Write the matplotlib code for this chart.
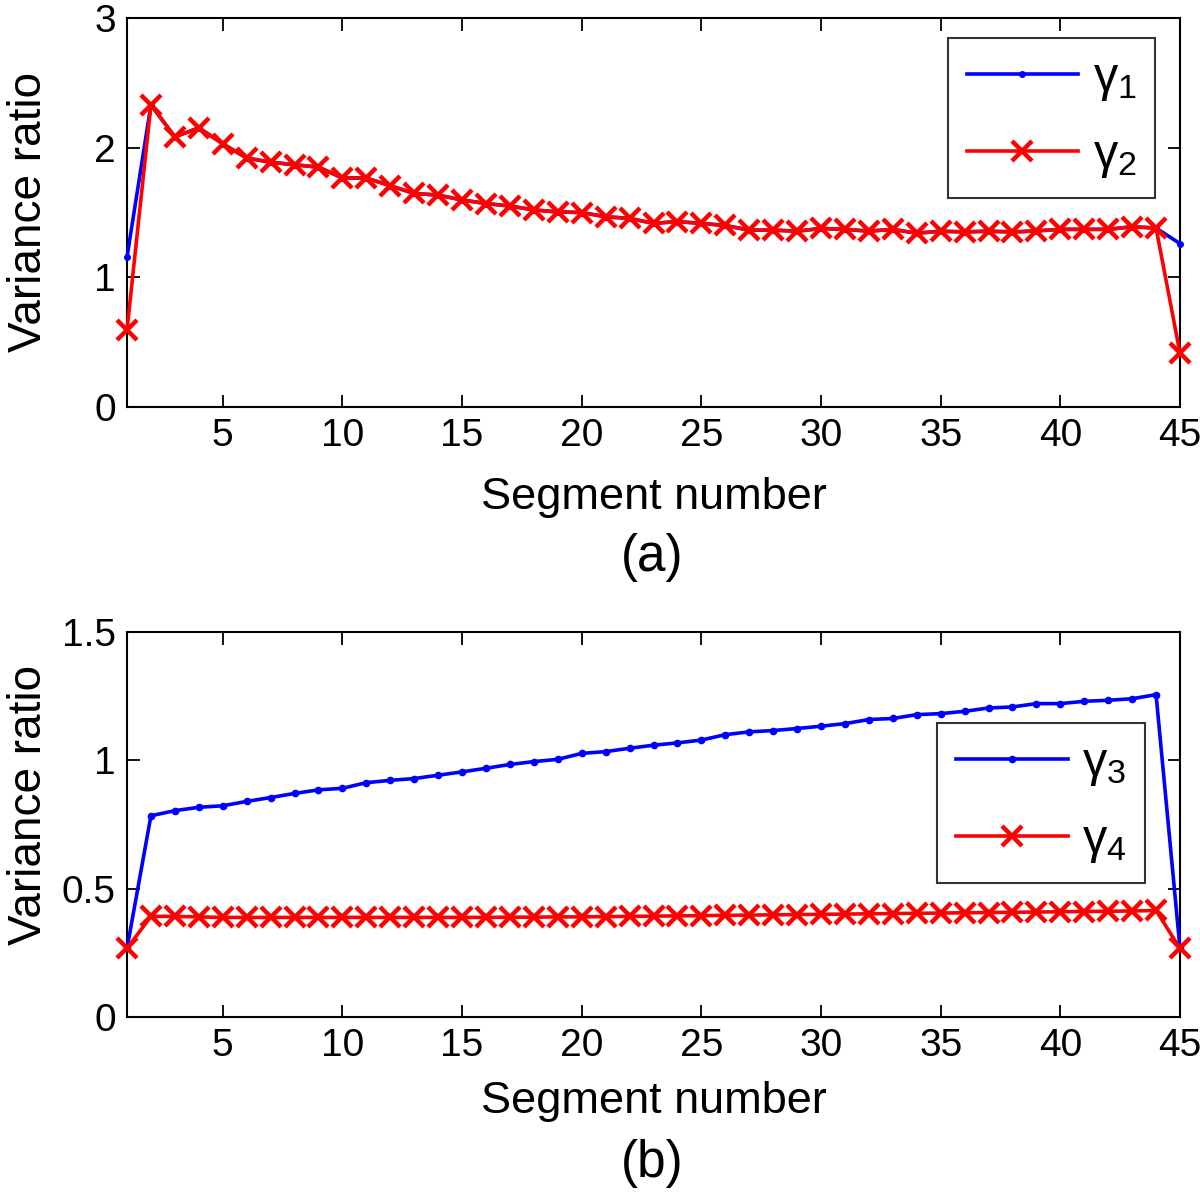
import matplotlib
matplotlib.use("Agg")
import matplotlib.pyplot as plt

plt.rcParams['font.family'] = ['Liberation Sans', 'DejaVu Sans']
plt.rcParams['mathtext.fontset'] = 'custom'
plt.rcParams['mathtext.rm'] = 'Liberation Sans'
plt.rcParams['mathtext.it'] = 'Liberation Sans'

segments = list(range(1, 46))

gamma1 = [1.156, 2.33, 2.083, 2.153, 2.03, 1.92, 1.888, 1.868, 1.85, 1.766,
          1.766, 1.706, 1.647, 1.634, 1.597, 1.569, 1.55, 1.52, 1.504, 1.50,
          1.467, 1.455, 1.416, 1.43, 1.416, 1.40, 1.364, 1.364, 1.356, 1.377,
          1.37, 1.356, 1.37, 1.34, 1.356, 1.35, 1.356, 1.35, 1.358, 1.37,
          1.37, 1.37, 1.39, 1.38, 1.26]
gamma2 = [0.595] + gamma1[1:44] + [0.415]

gamma3 = [0.267, 0.784, 0.804, 0.817, 0.823, 0.84, 0.855, 0.871, 0.885, 0.891,
          0.913, 0.922, 0.929, 0.942, 0.955, 0.969, 0.984, 0.995, 1.004, 1.027,
          1.034, 1.047, 1.059, 1.068, 1.079, 1.10, 1.111, 1.116, 1.124, 1.133,
          1.143, 1.159, 1.163, 1.178, 1.182, 1.191, 1.204, 1.208, 1.221, 1.221,
          1.23, 1.234, 1.24, 1.256, 0.267]
gamma4 = [0.267, 0.392, 0.392, 0.39, 0.388, 0.388, 0.388, 0.388, 0.388, 0.388,
          0.388, 0.388, 0.388, 0.388, 0.388, 0.388, 0.389, 0.389, 0.39, 0.39,
          0.391, 0.392, 0.393, 0.394, 0.395, 0.396, 0.397, 0.398, 0.399, 0.40,
          0.401, 0.402, 0.403, 0.404, 0.405, 0.406, 0.407, 0.408, 0.409, 0.41,
          0.411, 0.412, 0.413, 0.415, 0.267]

xticks = [5, 10, 15, 20, 25, 30, 35, 40, 45]

W, H = 1200, 1195
fig = plt.figure(figsize=(W / 100, H / 100), dpi=100)

def make_ax(l, r, t, b):
    return fig.add_axes([l / W, 1 - b / H, (r - l) / W, (b - t) / H])

ax1 = make_ax(127, 1180, 18, 407)
ax2 = make_ax(127, 1180, 632, 1017)

blue = '#0000ff'
red = '#ff0000'

def style(ax, yticks, ylim, ylab_y, xlab_y):
    ax.set_xlim(1, 45)
    ax.set_ylim(*ylim)
    ax.set_xticks(xticks)
    ax.set_yticks(yticks)
    ax.tick_params(direction='in', length=9, width=1.3, top=True, right=True,
                   labelsize=28, pad=8, colors='black')
    for s in ax.spines.values():
        s.set_linewidth(1.5)
    ax.set_ylabel('Variance ratio', fontsize=33, rotation_mode='default',
                  ha='center', va='center')
    ax.yaxis.set_label_coords(-0.093, ylab_y)
    ax.set_xlabel('Segment number', fontsize=32.5, ha='center', va='center')
    ax.xaxis.set_label_coords(0.5, xlab_y)

ax1.plot(segments, gamma1, color=blue, lw=2.6, marker='.', ms=8, label=r'$\gamma_1$', clip_on=False, zorder=3)
ax1.plot(segments, gamma2, color=red, lw=2.6, marker='x', ms=15, mew=3.2, label=r'$\gamma_2$', clip_on=False, zorder=4)
style(ax1, [0, 1, 2, 3], (0, 3), 0.5, -0.232)
ax1.set_yticklabels(['0', '1', '2', '3'])
leg1 = ax1.legend(loc='upper right', bbox_to_anchor=(1155 / W, 1 - 38 / H), bbox_transform=fig.transFigure,
                  fontsize=35, frameon=True, fancybox=False, edgecolor='black', handlelength=2.3,
                  borderpad=0.38, labelspacing=0.6, handletextpad=0.3, borderaxespad=0)
leg1.get_frame().set_linewidth(1.5)

ax2.plot(segments, gamma3, color=blue, lw=2.6, marker='.', ms=9, label=r'$\gamma_3$', clip_on=False, zorder=3)
ax2.plot(segments, gamma4, color=red, lw=2.6, marker='x', ms=15, mew=3.2, label=r'$\gamma_4$', clip_on=False, zorder=4)
style(ax2, [0, 0.5, 1, 1.5], (0, 1.5), 0.55, -0.22)
ax2.set_yticklabels(['0', '0.5', '1', '1.5'])
leg2 = ax2.legend(loc='upper right', bbox_to_anchor=(1145 / W, 1 - 723 / H), bbox_transform=fig.transFigure,
                  fontsize=35, frameon=True, fancybox=False, edgecolor='black', handlelength=2.3,
                  borderpad=0.38, labelspacing=0.6, handletextpad=0.3, borderaxespad=0)
leg2.get_frame().set_linewidth(1.5)

fig.text(652 / W, 1 - 557 / H, '(a)', fontsize=37, ha='center', va='center')
fig.text(652 / W, 1 - 1163 / H, '(b)', fontsize=37, ha='center', va='center')

fig.savefig('out.png', dpi=100, facecolor='white')
